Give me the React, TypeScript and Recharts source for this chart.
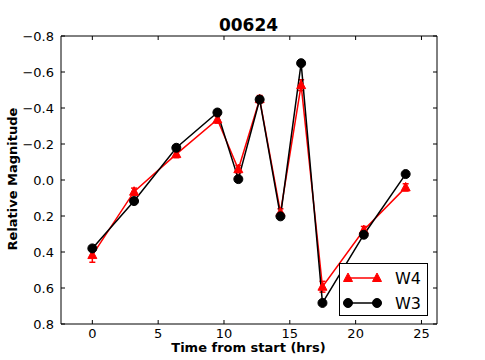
import React from 'react';
import { LineChart, Line, XAxis, YAxis, ErrorBar } from 'recharts';

const hours = [0, 3.17, 6.38, 9.5, 11.09, 12.71, 14.29, 15.86, 17.48, 20.62, 23.8];
const w3 = [0.38, 0.117, -0.179, -0.375, -0.005, -0.447, 0.202, -0.649, 0.683, 0.304, -0.033];
const w3Err = [0.01, 0.01, 0.01, 0.01, 0.01, 0.01, 0.01, 0.01, 0.01, 0.01, 0.01];
const w4 = [0.417, 0.065, -0.144, -0.336, -0.06, -0.449, 0.18, -0.527, 0.593, 0.278, 0.041];
const w4Err = [0.04, 0.02, 0.02, 0.02, 0.02, 0.02, 0.02, 0.03, 0.03, 0.02, 0.02];
const xTicks = [0, 5, 10, 15, 20, 25];
const yTicks = [-0.8, -0.6, -0.4, -0.2, 0, 0.2, 0.4, 0.6, 0.8];

const data = hours.map((t, i) => ({ t, w3: w3[i], w3Err: w3Err[i], w4: w4[i], w4Err: w4Err[i] }));

const font = 'DejaVu Sans, sans-serif';
const fmtY = (v: number) => v.toFixed(1).replace('-', '\u2212');

const Triangle = (props: any) => {
  const { cx, cy } = props;
  if (cx == null || cy == null) return null;
  return <path d={`M${cx},${cy - 5} L${cx + 4.5},${cy + 3.5} L${cx - 4.5},${cy + 3.5} Z`} fill="#ff0000" stroke="#ff0000" />;
};

const Circle = (props: any) => {
  const { cx, cy } = props;
  if (cx == null || cy == null) return null;
  return <circle cx={cx} cy={cy} r={4.5} fill="#000" stroke="#000" />;
};

const LegendBox = () => (
  <div style={{ position: 'absolute', left: 339, top: 263, width: 89, height: 53, border: '1px solid #000', background: '#fff', boxSizing: 'border-box' }}>
    <svg width={87} height={51} style={{ position: 'absolute', left: 0, top: 0 }}>
      <line x1={8} y1={14} x2={37} y2={14} stroke="#ff0000" strokeWidth={1.5} />
      <Triangle cx={8} cy={14} />
      <Triangle cx={37} cy={14} />
      <text x={55} y={20} fontSize={16} fontFamily={font}>W4</text>
      <line x1={8} y1={39} x2={37} y2={39} stroke="#000" strokeWidth={1.5} />
      <Circle cx={8} cy={39} />
      <Circle cx={37} cy={39} />
      <text x={55} y={45} fontSize={16} fontFamily={font}>W3</text>
    </svg>
  </div>
);

export default function App() {
  return (
    <div style={{ position: 'absolute', left: 0, top: 0, width: 485, height: 360, background: '#fff' }}>
      <div style={{ position: 'absolute', left: 0, width: 497, top: 17, lineHeight: '17px', textAlign: 'center', fontFamily: font, fontWeight: 'bold', fontSize: 17 }}>00624</div>
      <div style={{ position: 'absolute', left: 0, width: 497, top: 341, lineHeight: '13px', textAlign: 'center', fontFamily: font, fontWeight: 'bold', fontSize: 13 }}>Time from start (hrs)</div>
      <div style={{ position: 'absolute', left: 12, top: 179, lineHeight: '13px', transform: 'translate(-50%, -50%) rotate(-90deg)', whiteSpace: 'nowrap', fontFamily: font, fontWeight: 'bold', fontSize: 13 }}>Relative Magnitude</div>
      <LineChart width={485} height={360} data={data} margin={{ top: 35, right: 47, bottom: 0, left: 0 }} style={{ position: 'absolute', left: 0, top: 0 }}>
        <XAxis xAxisId="b" dataKey="t" type="number" domain={[-2.38, 26.18]} ticks={xTicks} allowDataOverflow
          height={36} tickSize={-4} tickMargin={9} stroke="#000" tick={{ fill: '#000', fontSize: 13, fontFamily: font }} />
        <XAxis xAxisId="t" orientation="top" dataKey="t" type="number" domain={[-2.38, 26.18]} ticks={xTicks} allowDataOverflow
          height={1} tickSize={-4} tickFormatter={() => ''} stroke="#000" />
        <YAxis yAxisId="l" type="number" domain={[-0.8, 0.8]} ticks={yTicks} reversed allowDataOverflow
          width={61} tickSize={-4} tickMargin={11} tickFormatter={fmtY} stroke="#000" tick={{ fill: '#000', fontSize: 13, fontFamily: font }} />
        <YAxis yAxisId="r" orientation="right" type="number" domain={[-0.8, 0.8]} ticks={yTicks} reversed allowDataOverflow
          width={1} tickSize={-4} tickFormatter={() => ''} stroke="#000" />
        <Line xAxisId="b" yAxisId="l" dataKey="w4" name="W4" stroke="#ff0000" strokeWidth={1.5} dot={<Triangle />} activeDot={false} isAnimationActive={false}>
          <ErrorBar dataKey="w4Err" direction="y" width={3} stroke="#ff0000" strokeWidth={1.5} />
        </Line>
        <Line xAxisId="b" yAxisId="l" dataKey="w3" name="W3" stroke="#000" strokeWidth={1.5} dot={<Circle />} activeDot={false} isAnimationActive={false}>
          <ErrorBar dataKey="w3Err" direction="y" width={3} stroke="#000" strokeWidth={1.5} />
        </Line>
      </LineChart>
      <LegendBox />
    </div>
  );
}
